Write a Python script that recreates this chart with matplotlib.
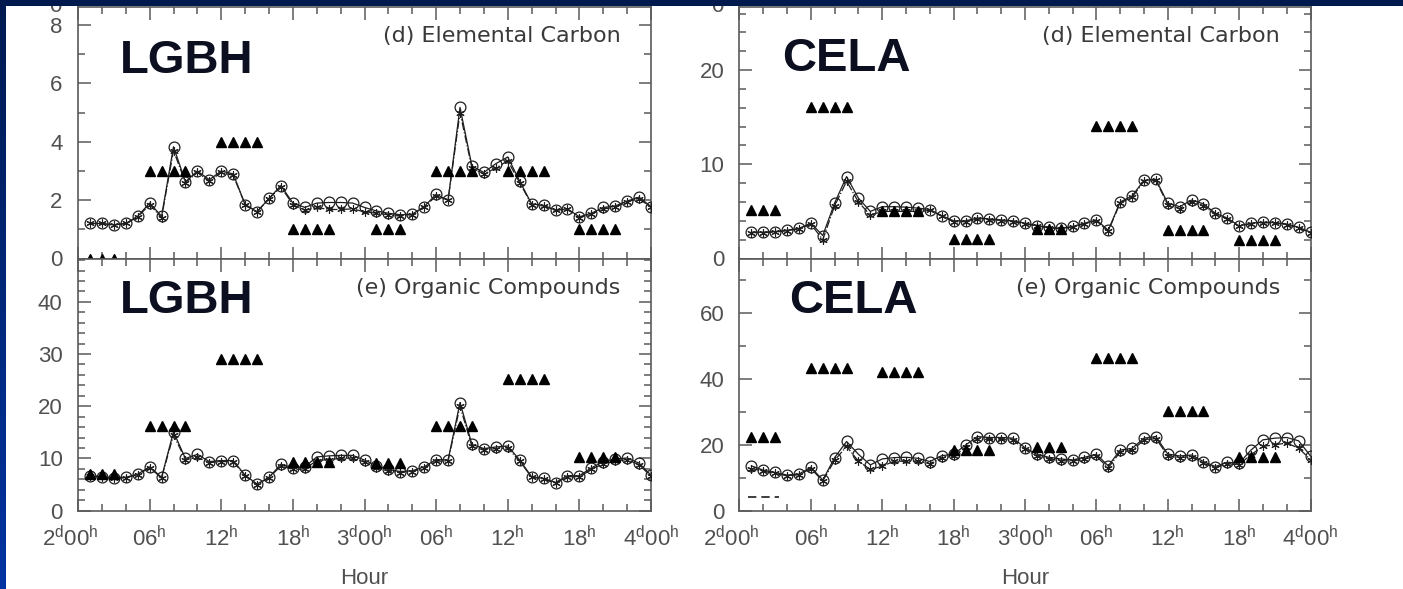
import numpy as np
import matplotlib.pyplot as plt
from matplotlib.ticker import MultipleLocator
from matplotlib.transforms import ScaledTranslation

plt.rcParams['font.family'] = ['Liberation Sans', 'DejaVu Sans']
plt.rcParams['mathtext.default'] = 'regular'

# hourly values, hour 1..48 (2d01h .. 4d00h)
hours = np.arange(1, 49)
hour_ticks = [0, 6, 12, 18, 24, 30, 36, 42, 48]
hour_labels = [r'2$^{d}$00$^{h}$', r'06$^{h}$', r'12$^{h}$', r'18$^{h}$',
               r'3$^{d}$00$^{h}$', r'06$^{h}$', r'12$^{h}$', r'18$^{h}$',
               r'4$^{d}$00$^{h}$']

# (d) Elemental Carbon, LGBH
ec_lgbh_a = [1.2, 1.2, 1.15, 1.2, 1.45, 1.9, 1.45, 3.83, 2.63, 3.0,
             2.7, 3.0, 2.9, 1.85, 1.6, 2.06, 2.5, 1.9, 1.75, 1.9,
             1.92, 1.92, 1.9, 1.75, 1.63, 1.55, 1.5, 1.52, 1.78, 2.2,
             2.0, 5.18, 3.17, 2.95, 3.25, 3.48, 2.65, 1.87, 1.82, 1.66,
             1.7, 1.43, 1.55, 1.75, 1.8, 1.97, 2.1, 1.78]
ec_lgbh_b = [1.2, 1.2, 1.15, 1.2, 1.42, 1.85, 1.4, 3.7, 2.6, 2.95,
             2.65, 2.95, 2.85, 1.85, 1.6, 2.05, 2.45, 1.85, 1.65, 1.75,
             1.68, 1.68, 1.7, 1.6, 1.55, 1.5, 1.45, 1.5, 1.75, 2.15,
             2.0, 5.0, 3.1, 2.9, 3.1, 3.35, 2.6, 1.85, 1.8, 1.65,
             1.68, 1.4, 1.52, 1.7, 1.75, 1.95, 2.05, 1.75]
# measured periods: (first hour, number of hours, value)
ec_lgbh_obs = [(1, 3, 0.0), (6, 4, 3.0), (12, 4, 4.0), (18, 4, 1.0),
               (25, 3, 1.0), (30, 4, 3.0), (36, 4, 3.0), (42, 4, 1.0)]

# (d) Elemental Carbon, CELA
ec_cela_a = [2.8, 2.8, 2.86, 3.0, 3.2, 3.75, 2.44, 5.9, 8.7, 6.4,
             5.0, 5.5, 5.5, 5.45, 5.35, 5.2, 4.55, 4.0, 4.0, 4.3,
             4.2, 4.1, 4.0, 3.75, 3.5, 3.3, 3.2, 3.4, 3.75, 4.1,
             3.0, 6.0, 6.64, 8.3, 8.4, 5.87, 5.5, 6.2, 5.8, 4.8,
             4.3, 3.46, 3.75, 3.85, 3.8, 3.67, 3.3, 2.8]
ec_cela_b = [2.75, 2.75, 2.8, 2.95, 3.15, 3.65, 2.0, 5.6, 8.2, 6.0,
             4.6, 5.0, 5.0, 5.0, 5.0, 5.1, 4.5, 3.9, 3.9, 4.2,
             4.1, 4.0, 3.9, 3.7, 3.45, 3.25, 3.15, 3.35, 3.7, 4.0,
             2.9, 5.9, 6.5, 8.2, 8.3, 5.7, 5.3, 6.0, 5.6, 4.7,
             4.2, 3.4, 3.7, 3.8, 3.75, 3.6, 3.25, 2.75]
ec_cela_obs = [(1, 3, 5.1), (6, 4, 16.1), (12, 4, 5.0), (18, 4, 2.05),
               (25, 3, 3.1), (30, 4, 14.1), (36, 4, 3.0), (42, 4, 2.0)]

# (e) Organic Compounds, LGBH
oc_lgbh_a = [6.7, 6.5, 6.3, 6.4, 7.0, 8.4, 6.4, 15.1, 10.0, 10.8,
             9.4, 9.6, 9.6, 6.8, 5.1, 6.4, 8.9, 8.2, 8.4, 10.3,
             10.5, 10.6, 10.6, 9.7, 8.6, 7.9, 7.5, 7.65, 8.4, 9.8,
             9.7, 20.7, 12.7, 11.9, 12.2, 12.4, 9.7, 6.5, 6.2, 5.4,
             6.7, 6.7, 8.2, 9.4, 9.9, 10.1, 9.1, 6.8]
oc_lgbh_b = [6.6, 6.4, 6.2, 6.3, 6.9, 8.2, 6.3, 14.5, 9.8, 10.2,
             9.2, 9.4, 9.4, 6.7, 5.0, 6.3, 8.6, 7.9, 8.0, 9.6,
             9.8, 10.0, 10.1, 9.3, 8.2, 7.6, 7.3, 7.5, 8.2, 9.5,
             9.5, 20.0, 12.3, 11.6, 11.9, 12.0, 9.5, 6.4, 6.1, 5.3,
             6.5, 6.5, 7.9, 9.0, 9.5, 9.8, 8.8, 6.6]
oc_lgbh_obs = [(1, 3, 7.1), (6, 4, 16.2), (12, 4, 29.1), (18, 4, 9.3),
               (25, 3, 9.2), (30, 4, 16.2), (36, 4, 25.2), (42, 4, 10.2)]

# (e) Organic Compounds, CELA
oc_cela_a = [13.6, 12.3, 11.6, 10.8, 11.1, 13.2, 9.3, 16.1, 21.0, 17.1,
             13.9, 15.7, 16.1, 16.2, 15.9, 14.9, 16.7, 17.1, 19.9, 22.5,
             22.2, 22.2, 22.0, 19.1, 17.1, 16.2, 15.7, 15.4, 16.2, 17.1,
             13.6, 18.4, 18.9, 22.0, 22.5, 17.2, 16.6, 16.9, 14.9, 13.4,
             14.7, 14.4, 18.4, 21.5, 22.0, 22.2, 21.2, 16.6]
oc_cela_b = [12.8, 12.0, 11.3, 10.6, 10.9, 12.8, 9.0, 15.3, 19.5, 15.0,
             12.5, 13.5, 15.0, 15.0, 15.0, 14.3, 16.0, 16.5, 19.2, 21.8,
             21.6, 21.6, 21.4, 18.6, 16.6, 15.7, 15.2, 15.0, 15.7, 16.5,
             13.0, 17.8, 18.3, 21.4, 21.9, 16.7, 16.1, 16.4, 14.4, 13.0,
             14.2, 14.0, 17.0, 19.5, 20.0, 20.5, 19.0, 15.5]
oc_cela_obs = [(1, 3, 22.4), (6, 4, 43.2), (12, 4, 42.2), (18, 4, 18.3),
               (25, 3, 19.3), (30, 4, 46.3), (36, 4, 30.3), (42, 4, 16.3)]

# leftover legend sample in the CELA organic panel
legend_dash_x = [0.7, 3.3]
legend_dash_y = [4.2, 4.2]

W, H = 1403, 589
fig = plt.figure(figsize=(W / 100, H / 100), dpi=100, facecolor='white')

tick_col = '#5a5a5a'
lab_col = '#505050'
ink = '#1e1e1e'


def panel(rect, a, b, obs, ymax, major, minor, site, title, bottom_row,
          site_xy, top_zero=False):
    ax = fig.add_axes(rect)
    ax.plot(hours, b, color=ink, lw=0.9, ls='-.', marker=(6, 2, 0), ms=6,
            mew=0.8, zorder=3)
    ax.plot(hours, a, color=ink, lw=0.9, ls='-', marker='o', ms=7.8,
            mfc='none', mec=ink, mew=0.9, zorder=4)
    for start, n, val in obs:
        hh = hours[start - 1:start - 1 + n]
        ax.plot(hh, [val] * n, ls='none', marker='^', ms=7.5, color='black',
                zorder=5)
    ax.set_xlim(0, 48)
    ax.set_ylim(0, ymax)
    ax.set_xticks(hour_ticks)
    ax.xaxis.set_minor_locator(MultipleLocator(2))
    ax.yaxis.set_major_locator(MultipleLocator(major))
    ax.yaxis.set_minor_locator(MultipleLocator(minor))
    ax.tick_params(which='both', direction='in', top=True, right=True,
                   color=tick_col, width=1.1, labelsize=16,
                   labelcolor=lab_col)
    ax.tick_params(which='major', length=9)
    ax.tick_params(which='minor', length=5)
    ax.tick_params(axis='y', pad=11)
    ax.tick_params(axis='x', pad=11)
    for s in ax.spines.values():
        s.set_color(tick_col)
        s.set_linewidth(1.2)
    if bottom_row:
        ax.set_xticklabels(hour_labels)
        first = ax.get_xticklabels()[0]
        first.set_transform(first.get_transform() +
                            ScaledTranslation(-8 / 100, 0, fig.dpi_scale_trans))
        ax.set_xlabel('Hour', fontsize=16, color=lab_col)
        ax.xaxis.set_label_coords(0.5, -0.228)
    else:
        ax.set_xticklabels([])
    ax.text(site_xy[0], site_xy[1], site, transform=ax.transAxes,
            fontsize=34, fontweight='bold', color='#0b0f1f',
            ha='left', va='baseline')
    ax.text(0.947, 0.885 if not bottom_row else 0.883, title,
            transform=ax.transAxes, ha='right', va='center',
            fontsize=16, color='#3a3a3a', family='DejaVu Sans')
    if top_zero:
        # label of the panel above, mostly cut off by the frame of the slide
        ax.text(-0.028, 1.0, '0', transform=ax.transAxes, ha='right',
                va='center', fontsize=16, color=lab_col, clip_on=False)
    return ax


xl, wl = 78 / W, 573 / W
xr, wr = 739.5 / W, 571 / W
yt, ht = (H - 258.5) / H, 251.5 / H
yb, hb = (H - 510.7) / H, 252.2 / H

panel([xl, yt, wl, ht], ec_lgbh_a, ec_lgbh_b, ec_lgbh_obs, 8.62, 2, 1,
      'LGBH', '(d) Elemental Carbon', False, (0.073, 0.736), top_zero=True)
panel([xr, yt, wr, ht], ec_cela_a, ec_cela_b, ec_cela_obs, 26.7, 10, 2,
      'CELA', '(d) Elemental Carbon', False, (0.075, 0.747), top_zero=True)
panel([xl, yb, wl, hb], oc_lgbh_a, oc_lgbh_b, oc_lgbh_obs, 48.3, 10, 2,
      'LGBH', '(e) Organic Compounds', True, (0.073, 0.784))
ax4 = panel([xr, yb, wr, hb], oc_cela_a, oc_cela_b, oc_cela_obs, 76.5, 20, 10,
            'CELA', '(e) Organic Compounds', True, (0.087, 0.783))
ax4.plot(legend_dash_x, legend_dash_y, color=ink, lw=1.2, dashes=(5, 3))

# slide frame: dark strip on top, blue gradient strip on the left
top = fig.add_axes([0, 1 - 6 / H, 1, 6 / H], zorder=10)
top.set_axis_off()
top.add_patch(plt.Rectangle((0, 0), 1, 1, transform=top.transAxes,
                            color='#001a4f'))
left = fig.add_axes([0, 0, 6 / W, 1], zorder=10)
grad = np.linspace(0, 1, 256).reshape(-1, 1)
c0 = np.array([0, 26, 80]) / 255
c1 = np.array([0, 52, 162]) / 255
img = c0 + (c1 - c0) * grad[..., None]
left.imshow(img, aspect='auto', extent=[0, 1, 0, 1], origin='upper')
left.set_axis_off()

fig.savefig('out.png', dpi=100)
